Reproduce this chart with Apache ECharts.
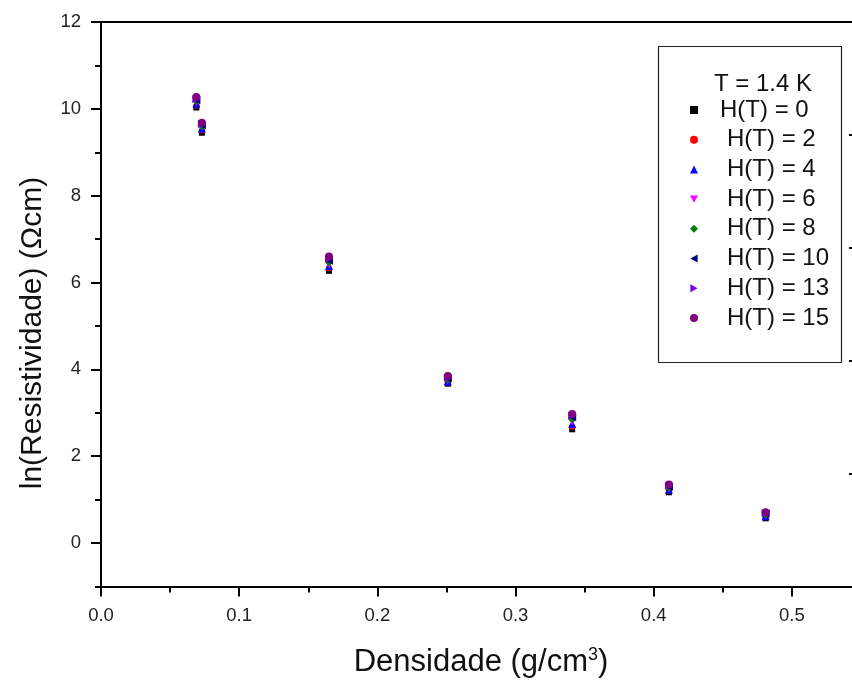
<!DOCTYPE html>
<html><head><meta charset="utf-8">
<script src="https://cdn.jsdelivr.net/npm/echarts@6/dist/echarts.min.js"></script>
<style>html,body{margin:0;padding:0;background:#fff}#c{width:852px;height:682px}</style>
</head><body><div id="c"></div>
<script>
const densities = [0.069, 0.073, 0.165, 0.251, 0.341, 0.411, 0.481];
const seriesNames = ['H(T) = 0','H(T) = 2','H(T) = 4','H(T) = 6','H(T) = 8','H(T) = 10','H(T) = 13','H(T) = 15'];
const h0  = [10.03, 9.45, 6.27, 3.67, 2.62, 1.17, 0.57];
const h2  = [10.07, 9.50, 6.33, 3.70, 2.68, 1.20, 0.60];
const h4  = [10.12, 9.55, 6.38, 3.72, 2.75, 1.23, 0.62];
const h6  = [10.15, 9.58, 6.42, 3.75, 2.80, 1.26, 0.64];
const h8  = [10.18, 9.60, 6.47, 3.77, 2.85, 1.28, 0.66];
const h10 = [10.20, 9.62, 6.50, 3.79, 2.90, 1.30, 0.68];
const h13 = [10.22, 9.65, 6.55, 3.81, 2.93, 1.32, 0.69];
const h15 = [10.27, 9.68, 6.60, 3.85, 2.97, 1.35, 0.71];
const xTicks = [0.0, 0.1, 0.2, 0.3, 0.4, 0.5];
const yTicks = [0, 2, 4, 6, 8, 10, 12];
const yMinorTicks = [-1, 1, 3, 5, 7, 9, 11];

const allValues = [h0,h2,h4,h6,h8,h10,h13,h15];
const colors = ['#000000','#ff0000','#0000ff','#ff00ff','#008000','#000080','#7a00e6','#800080'];
const symbols = ['rect','circle','triangle',
  'path://M0,0 L10,0 L5,9 Z', 'diamond',
  'path://M9,0 L9,10 L0,5 Z', 'path://M0,0 L0,10 L9,5 Z', 'circle'];
const sizes = [6,6,8,8,8,8,8,8];
const FONT = 'Liberation Sans, Arial, sans-serif';

const series = allValues.map((vals, i) => ({
  name: seriesNames[i],
  type: 'scatter',
  symbol: symbols[i],
  symbolSize: sizes[i],
  itemStyle: {color: colors[i], opacity: 1},
  data: densities.map((d, j) => [d, vals[j]]),
  z: 2 + i
}));

const chart = echarts.init(document.getElementById('c'));
chart.setOption({
  animation: false,
  backgroundColor: '#fff',
  grid: {left: 101, top: 22, width: 760, height: 564.5, containLabel: false, outerBoundsMode: 'none'},
  xAxis: [{
    type: 'value', min: 0, max: 0.55, interval: 0.1,
    axisLine: {show: true, onZero: false, lineStyle: {color: '#000', width: 2}},
    axisTick: {show: true, length: 10, lineStyle: {color: '#000', width: 2}},
    minorTick: {show: true, splitNumber: 2, length: 6, lineStyle: {color: '#000', width: 2}},
    splitLine: {show: false},
    axisLabel: {fontFamily: FONT, fontSize: 18.5, color: '#222', margin: 20,
      formatter: v => { const t = xTicks.find(x => Math.abs(x - v) < 1e-9); return t === undefined ? '' : t.toFixed(1); }},
    name: '{a|Densidade (g/cm}{s|3}{a|)}', nameLocation: 'middle', nameGap: 60,
    nameTextStyle: {rich: {a: {fontFamily: FONT, fontSize: 31, color: '#111'}, s: {fontFamily: FONT, fontSize: 18, color: '#111', verticalAlign: 'top', padding: [0,0,14,0]}}}
  }, {
    type: 'value', position: 'top', min: 0, max: 0.55,
    axisLine: {show: true, onZero: false, lineStyle: {color: '#000', width: 2}},
    axisTick: {show: false}, axisLabel: {show: false}, splitLine: {show: false}
  }],
  yAxis: [{
    type: 'value', min: -1, max: 12, interval: 1,
    axisLine: {show: true, onZero: false, lineStyle: {color: '#000', width: 2}},
    axisTick: {show: true, length: 10, customValues: yTicks, lineStyle: {color: '#000', width: 2}},
    splitLine: {show: false},
    axisLabel: {fontFamily: FONT, fontSize: 18.5, color: '#222', margin: 20, customValues: yTicks,
      formatter: v => String(v)}
  }, {
    type: 'value', position: 'left', min: -1, max: 12, interval: 1,
    axisLine: {show: false, onZero: false},
    axisTick: {show: true, length: 6, customValues: yMinorTicks, lineStyle: {color: '#000', width: 2}},
    axisLabel: {show: false}, splitLine: {show: false}
  }, {
    type: 'value', position: 'right', min: 0, max: 5, interval: 1,
    axisLine: {show: true, onZero: false, lineStyle: {color: '#000', width: 2}},
    axisTick: {show: true, inside: true, length: 12, lineStyle: {color: '#000', width: 2}},
    axisLabel: {show: false}, splitLine: {show: false}
  }],
  legend: {
    orient: 'vertical', left: 685, top: 93,
    itemWidth: 8, itemHeight: 8, itemGap: 5.7,
    textStyle: {fontFamily: FONT, fontSize: 24, color: '#111', lineHeight: 24,
      rich: {
        a: {fontFamily: FONT, fontSize: 24, color: '#111', padding: [0,0,0,17]},
        b: {fontFamily: FONT, fontSize: 24, color: '#111', padding: [0,0,0,24]}
      }},
    formatter: name => (name === 'H(T) = 0' ? '{a|' + name + '}' : '{b|' + name + '}'),
    data: seriesNames
  },
  graphic: [
    {type: 'rect', left: 656, top: 44, shape: {width: 183, height: 316},
      style: {fill: 'none', stroke: '#222', lineWidth: 1.2}, z: 1},
    {type: 'text', left: 714, top: 72, style: {text: 'T = 1.4 K', font: '24px ' + FONT, fill: '#111'}},
    {type: 'text', x: 33, y: 333, rotation: Math.PI / 2,
      style: {text: 'ln(Resistividade) (Ωcm)', font: '30px ' + FONT, fill: '#111', align: 'center', verticalAlign: 'middle'}}
  ],
  series: series
});
</script></body></html>
